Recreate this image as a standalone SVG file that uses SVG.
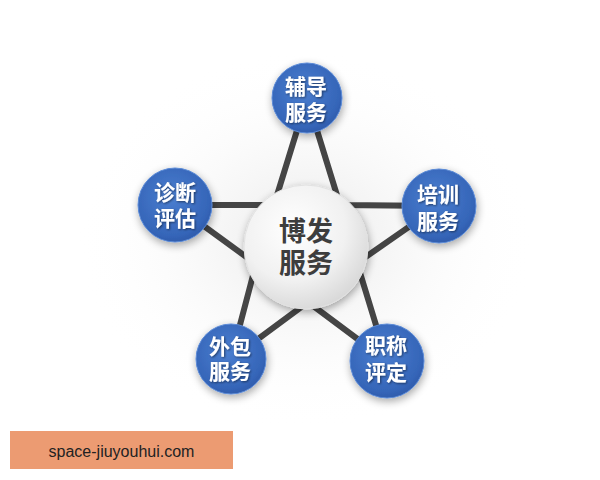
<svg xmlns="http://www.w3.org/2000/svg" width="600" height="480" viewBox="0 0 600 480">
  <defs>
    <radialGradient id="blue" cx="45%" cy="40%" r="65%">
      <stop offset="0" stop-color="#4a7ed0"/>
      <stop offset="0.8" stop-color="#3565b8"/>
      <stop offset="1" stop-color="#2c57a6"/>
    </radialGradient>
    <radialGradient id="center" cx="40%" cy="35%" r="70%">
      <stop offset="0" stop-color="#ffffff"/>
      <stop offset="0.6" stop-color="#f1f1f1"/>
      <stop offset="1" stop-color="#d6d6d6"/>
    </radialGradient>
    <radialGradient id="bgshade" cx="50%" cy="50%" r="50%">
      <stop offset="0" stop-color="#e6e6e6" stop-opacity="0.9"/>
      <stop offset="1" stop-color="#ffffff" stop-opacity="0"/>
    </radialGradient>
    <filter id="shadow" x="-30%" y="-30%" width="160%" height="160%">
      <feGaussianBlur in="SourceAlpha" stdDeviation="4"/>
      <feOffset dx="1" dy="3" result="b"/>
      <feComponentTransfer><feFuncA type="linear" slope="0.35"/></feComponentTransfer>
      <feMerge><feMergeNode/><feMergeNode in="SourceGraphic"/></feMerge>
    </filter>
    <filter id="tshadow" x="-10%" y="-10%" width="120%" height="130%">
      <feGaussianBlur in="SourceAlpha" stdDeviation="0.8"/>
      <feOffset dx="1" dy="1"/>
      <feComponentTransfer><feFuncA type="linear" slope="0.5"/></feComponentTransfer>
      <feMerge><feMergeNode/><feMergeNode in="SourceGraphic"/></feMerge>
    </filter>
  </defs>
  <style>
    .node { fill: url(#blue); stroke: #5b8ad6; stroke-width: 1; filter: url(#shadow); }
    .nt { font-family: "Liberation Sans", "Noto Sans CJK SC", sans-serif; font-weight: 700; font-size: 21px; fill: #ffffff; text-anchor: middle; filter: url(#tshadow); }
    .ct { font-family: "Liberation Sans", "Noto Sans CJK SC", sans-serif; font-weight: 700; font-size: 27px; fill: #3d3d3d; text-anchor: middle; }
    .edge { fill: none; stroke: #454545; stroke-width: 6; stroke-linejoin: miter; }
  </style>
  <rect width="600" height="480" fill="#ffffff"/>
  <ellipse cx="306" cy="240" rx="230" ry="190" fill="url(#bgshade)"/>

  <g id="connectors">
    <polygon class="edge" points="307,98 340,205 439,206 357,263 387,361 308,302 231,359 256,264 175,205 274,205"/>
  </g>

  <g id="center-node">
    <circle cx="306" cy="247" r="62" fill="url(#center)" stroke="#e2e2e2" stroke-width="1" filter="url(#shadow)"/>
    <text class="ct" x="306" y="241">博发<tspan x="306" dy="32">服务</tspan></text>
  </g>

  <g id="node-top">
    <circle class="node" cx="307" cy="98" r="35"/>
    <text class="nt" x="306" y="94">辅导<tspan x="306" dy="26">服务</tspan></text>
  </g>

  <g id="node-right">
    <circle class="node" cx="439" cy="206" r="37"/>
    <text class="nt" x="438" y="202">培训<tspan x="438" dy="27">服务</tspan></text>
  </g>

  <g id="node-left">
    <circle class="node" cx="175" cy="205" r="37"/>
    <text class="nt" x="175" y="200">诊断<tspan x="175" dy="26">评估</tspan></text>
  </g>

  <g id="node-bottom-left">
    <circle class="node" cx="231" cy="359" r="35"/>
    <text class="nt" x="230" y="354">外包<tspan x="230" dy="25">服务</tspan></text>
  </g>

  <g id="node-bottom-right">
    <circle class="node" cx="387" cy="361" r="37"/>
    <text class="nt" x="386" y="353">职称<tspan x="386" dy="27">评定</tspan></text>
  </g>

  <g id="watermark">
    <rect x="10" y="431" width="223" height="38" fill="#ec9b72"/>
    <text x="121.5" y="456.5" font-family="Liberation Sans, Arial, sans-serif" font-size="16" fill="#222222" text-anchor="middle">space-jiuyouhui.com</text>
  </g>
</svg>
